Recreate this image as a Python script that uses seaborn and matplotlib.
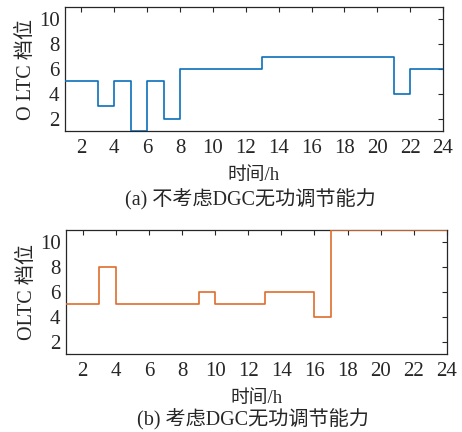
import numpy as np
import pandas as pd
import seaborn as sns
from matplotlib import pyplot as plt

# 数据：每小时的OLTC档位
hours = list(range(1, 25))
tap_a = [5, 5, 3, 5, 1, 5, 2, 6, 6, 6, 6, 6, 7, 7, 7, 7, 7, 7, 7, 7, 4, 6, 6, 6]
tap_b = [5, 5, 8, 5, 5, 5, 5, 5, 6, 5, 5, 5, 6, 6, 6, 4, 11, 11, 11, 11, 11, 11, 11, 11]

ylabels = ['O LTC 档位', 'OLTC 档位']
captions = ['(a) 不考虑DGC无功调节能力', '(b) 考虑DGC无功调节能力']
colors = ['#0B6FBA', '#DF6C2C']
cap_y = [-0.555, -0.53]

sns.set_style('white')
plt.rcParams['font.family'] = ['Liberation Serif', 'Noto Sans CJK SC']
plt.rcParams['axes.unicode_minus'] = False

fig = plt.figure(figsize=(4.62, 4.32), dpi=100)
# 手动放置两个子图
ax_a = fig.add_axes([65 / 462, 1 - 131 / 432, 378 / 462, 124 / 432])
ax_b = fig.add_axes([66 / 462, 1 - 354 / 432, 381 / 462, 124 / 432])

for ax, vals, ylab, cap, c, cy in zip([ax_a, ax_b], [tap_a, tap_b], ylabels, captions, colors, cap_y):
    df = pd.DataFrame({'hour': hours, 'tap': vals})
    sns.lineplot(data=df, x='hour', y='tap', ax=ax, color=c, linewidth=1.2,
                 drawstyle='steps-post', zorder=3)
    ax.set_xlim(1, 24)
    ax.set_ylim(1, 11)
    ax.set_xticks(range(2, 25, 2))
    ax.set_yticks(range(2, 11, 2))
    ax.tick_params(direction='in', top=True, right=True, length=3.6, width=0.8,
                   labelsize=15, pad=4)
    ax.tick_params(axis='x', pad=6)
    for sp in ax.spines.values():
        sp.set_color('#262626')
        sp.set_linewidth(0.9)
    ax.set_xlabel('时间/h', fontsize=13.5, labelpad=6)
    ax.set_ylabel(ylab, fontsize=14.5, labelpad=2)
    ax.text(0.49, cy, cap, transform=ax.transAxes, ha='center', va='center',
            fontsize=14.5)

fig.savefig('out.png', dpi=100)
